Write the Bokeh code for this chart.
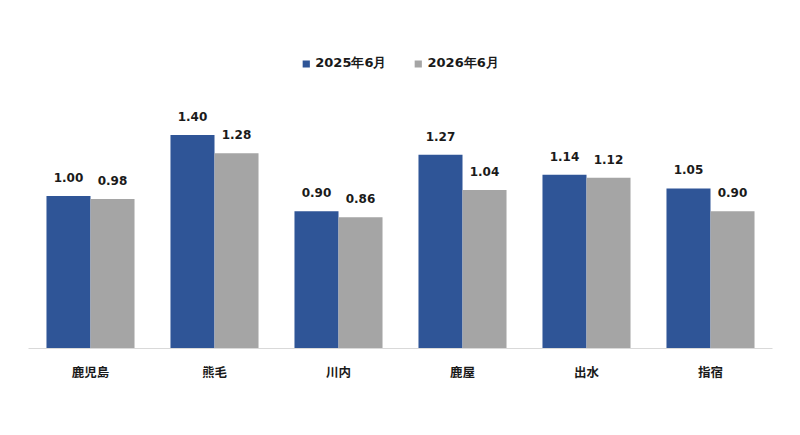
from bokeh.plotting import figure
from bokeh.models import ColumnDataSource, Range1d, FactorRange, Legend, LegendItem, LabelSet
from bokeh.transform import dodge
from bokeh.core.properties import value
from bokeh.embed import file_html
from bokeh.resources import INLINE

categories = ["鹿児島", "熊毛", "川内", "鹿屋", "出水", "指宿"]
series_names = ["2025年6月", "2026年6月"]
values_2025 = [1.00, 1.40, 0.90, 1.27, 1.14, 1.05]
values_2026 = [0.98, 1.28, 0.86, 1.04, 1.12, 0.90]
colors = ["#2F5597", "#A5A5A5"]

src = ColumnDataSource(dict(
    cat=categories,
    v1=values_2025,
    v2=values_2026,
    l1=[f"{v:.2f}" for v in values_2025],
    l2=[f"{v:.2f}" for v in values_2026],
))

p = figure(width=784, height=419, x_range=FactorRange(*categories), y_range=Range1d(0, 2.02),
           output_backend="svg", toolbar_location=None,
           min_border_left=28, min_border_right=12, min_border_top=40, min_border_bottom=71)
p.outline_line_color = None
p.xgrid.visible = False
p.ygrid.visible = False
p.yaxis.visible = False

bw = 0.355
r1 = p.vbar(x=dodge("cat", -bw / 2, range=p.x_range), top="v1", width=bw, source=src,
            fill_color=colors[0], line_color=None)
r2 = p.vbar(x=dodge("cat", bw / 2, range=p.x_range), top="v2", width=bw, source=src,
            fill_color=colors[1], line_color=None)

for xcol, ycol, lcol, off in [("cat", "v1", "l1", -bw / 2), ("cat", "v2", "l2", bw / 2)]:
    ls = LabelSet(x=dodge(xcol, off, range=p.x_range), y=ycol, text=lcol, source=src,
                  text_align="center", text_baseline="bottom", y_offset=14,
                  text_font=value("DejaVu Sans"), text_font_style="bold",
                  text_font_size=value("12px"), text_color="#1a1a1a")
    p.add_layout(ls)

ax = p.xaxis[0]
ax.axis_line_color = "#D9D9D9"
ax.axis_line_width = 1
ax.major_tick_line_color = None
ax.minor_tick_line_color = None
ax.major_label_standoff = 7
ax.major_label_text_font = "Noto Sans CJK JP"
ax.major_label_text_font_style = "bold"
ax.major_label_text_font_size = "12.5px"
ax.major_label_text_color = "#1a1a1a"

legend = Legend(items=[LegendItem(label=series_names[0], renderers=[r1]),
                       LegendItem(label=series_names[1], renderers=[r2])],
                location="top_center", orientation="horizontal")
legend.margin = 14
legend.padding = 12
legend.spacing = 27
legend.glyph_width = 9
legend.glyph_height = 9
legend.label_standoff = 5
legend.label_text_font = "DejaVu Sans"
legend.label_text_font_style = "bold"
legend.label_text_font_size = "13px"
legend.label_text_color = "#1a1a1a"
legend.border_line_color = None
legend.background_fill_alpha = 0
p.add_layout(legend)

open("out.html", "w").write(file_html(p, INLINE))
